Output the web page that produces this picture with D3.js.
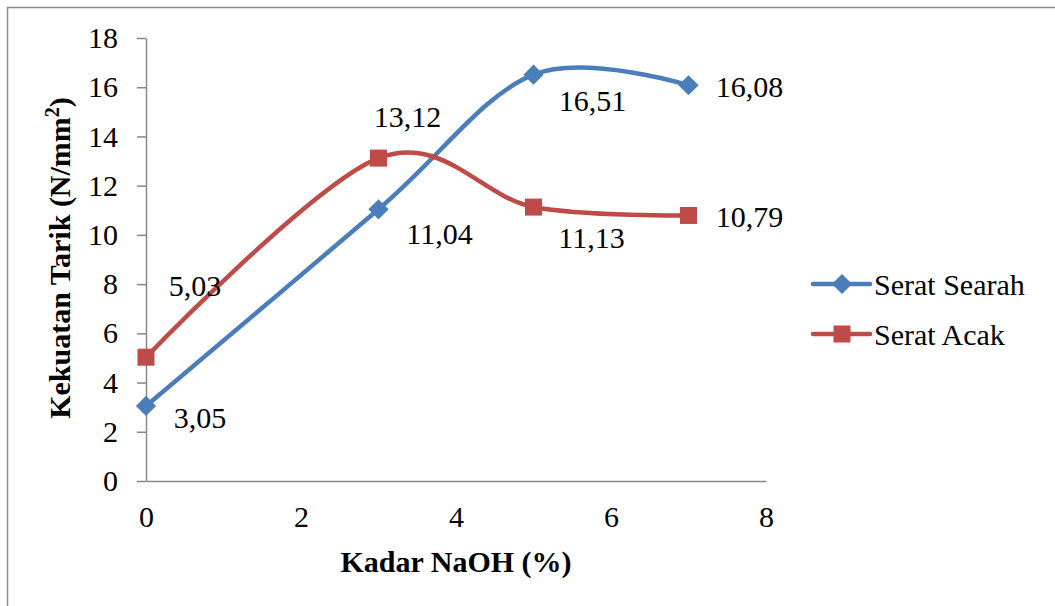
<!DOCTYPE html>
<html>
<head>
<meta charset="utf-8">
<script src="https://cdn.jsdelivr.net/npm/d3@7"></script>
<style>
  body { margin: 0; background: #fff; }
  text { font-family: "Liberation Serif", Tinos, "Times New Roman", Times, "DejaVu Serif", serif; fill: #000; }
</style>
</head>
<body>
<div class="chart"></div>
<script>
const kadar = [0, 3, 5, 7];
const searah = [3.05, 11.04, 16.51, 16.08];
const acak = [5.03, 13.12, 11.13, 10.79];
const seriesNames = ["Serat Searah", "Serat Acak"];
const xTicks = [0, 2, 4, 6, 8];
const yTicks = [0, 2, 4, 6, 8, 10, 12, 14, 16, 18];
// label nudges (px) copied from where the labels sit in the original
const labelShift = [
    [[54, 12], [61, 24], [59, 26], [61, 1]],
    [[49, -72], [29, -42], [58, 30], [61, 1]]
];

const W = 1055, H = 606;
const margin = {top: 38, right: 289, bottom: 125, left: 146},
      width = W - margin.left - margin.right,
      height = H - margin.top - margin.bottom;

const colors = ["#4a7ebb", "#be4b48"];
const fontSize = 30;
const serif = '"Liberation Serif", Tinos, "Times New Roman", Times, "DejaVu Serif", serif';

const root = d3.select(".chart").append("svg")
    .attr("width", W)
    .attr("height", H)
    .style("font-family", serif);

// outer chart border (only top/left visible in the crop)
root.append("rect")
    .attr("x", 7.5).attr("y", 7.5)
    .attr("width", W + 50).attr("height", H + 50)
    .attr("fill", "none")
    .attr("stroke", "#8c8c8c")
    .attr("stroke-width", 1.5);

const svg = root.append("g")
    .attr("transform", "translate(" + margin.left + "," + margin.top + ")");

const x = d3.scaleLinear().domain([0, 8]).range([0, width]);
const y = d3.scaleLinear().domain([0, 18]).range([height, 0]);

const xAxis = d3.axisBottom(x)
    .tickValues(xTicks)
    .tickSize(0)
    .tickPadding(25)
    .tickFormat(d3.format("d"));

const yAxis = d3.axisLeft(y)
    .tickValues(yTicks)
    .tickSize(9)
    .tickSizeOuter(0)
    .tickPadding(19)
    .tickFormat(d3.format("d"));

const styleAxis = g => {
    g.attr("font-family", null).attr("font-size", null);
    g.selectAll("path, line")
        .attr("stroke", "#888")
        .attr("stroke-width", 1.5);
    g.selectAll("text")
        .style("font-family", serif)
        .style("font-size", fontSize + "px")
        .attr("fill", "#000");
};

svg.append("g")
    .attr("class", "x axis")
    .attr("transform", "translate(0," + height + ")")
    .call(xAxis)
    .call(styleAxis);

svg.append("g")
    .attr("class", "y axis")
    .call(yAxis)
    .call(styleAxis);

// axis titles
svg.append("text")
    .attr("x", 456 - margin.left)
    .attr("y", 572 - margin.top)
    .attr("text-anchor", "middle")
    .style("font-size", fontSize + "px")
    .style("font-weight", "bold")
    .text("Kadar NaOH (%)");

const yTitle = svg.append("text")
    .attr("transform", "translate(" + (70 - margin.left) + "," + (258 - margin.top) + ") rotate(-90)")
    .attr("text-anchor", "middle")
    .style("font-size", fontSize + "px")
    .style("font-weight", "bold");
yTitle.append("tspan").text("Kekuatan Tarik (N/mm");
yTitle.append("tspan").attr("baseline-shift", "super").style("font-size", "20px").text("2");
yTitle.append("tspan").text(")");

const line = d3.line()
    .x(d => x(d[0]))
    .y(d => y(d[1]))
    .curve(d3.curveCardinal.tension(0));

const series = [searah, acak].map((vals, s) => ({
    name: seriesNames[s],
    color: colors[s],
    points: kadar.map((k, i) => [k, vals[i]]),
    shift: labelShift[s]
}));

const diamond = d3.symbol().type(d3.symbolDiamond2).size(260);
const square = r => "M" + (-r) + "," + (-r) + "h" + (2 * r) + "v" + (2 * r) + "h" + (-2 * r) + "Z";

const drawMarker = (sel, s, cx, cy) => {
    if (s === 0) {
        sel.append("path")
            .attr("d", diamond())
            .attr("transform", "translate(" + cx + "," + cy + ")")
            .attr("fill", colors[0]);
    } else {
        sel.append("path")
            .attr("d", square(8.5))
            .attr("transform", "translate(" + cx + "," + cy + ")")
            .attr("fill", colors[1]);
    }
};

series.forEach((sr, s) => {
    const g = svg.append("g").attr("class", "series s" + s);
    g.append("path")
        .attr("d", line(sr.points))
        .attr("fill", "none")
        .attr("stroke", sr.color)
        .attr("stroke-width", 4.5)
        .attr("stroke-linecap", "round");
    sr.points.forEach(p => drawMarker(g, s, x(p[0]), y(p[1])));
    g.selectAll("text.lbl")
        .data(sr.points)
        .enter().append("text")
        .attr("class", "lbl")
        .attr("x", (d, i) => x(d[0]) + sr.shift[i][0])
        .attr("y", (d, i) => y(d[1]) + sr.shift[i][1])
        .attr("dy", "0.35em")
        .attr("text-anchor", "middle")
        .style("font-size", fontSize + "px")
        .text(d => d3.format(".2f")(d[1]).replace(".", ","));
});

// legend
const legend = root.append("g")
    .attr("class", "legend")
    .selectAll("g")
    .data(series)
    .enter().append("g")
    .attr("transform", (d, i) => "translate(813," + (284 + i * 50) + ")");

legend.append("line")
    .attr("x1", 0).attr("x2", 57)
    .attr("y1", 0).attr("y2", 0)
    .attr("stroke", d => d.color)
    .attr("stroke-width", 4.5)
    .attr("stroke-linecap", "round");

legend.each(function(d, i) { drawMarker(d3.select(this), i, 29, 0); });

legend.append("text")
    .attr("x", 61)
    .attr("y", 11)
    .style("font-size", fontSize + "px")
    .text(d => d.name);
</script>
</body>
</html>
